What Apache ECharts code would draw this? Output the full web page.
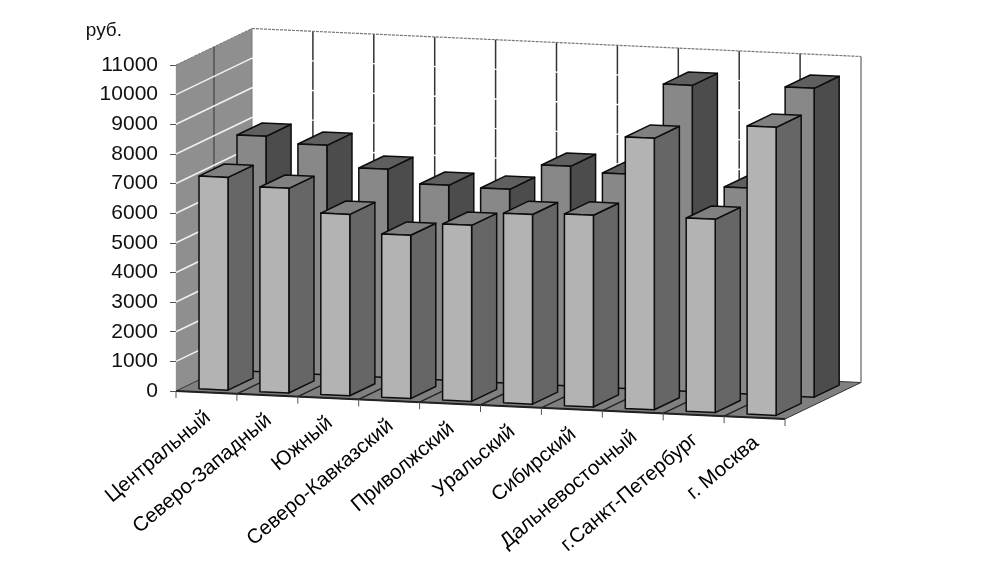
<!DOCTYPE html>
<html><head><meta charset="utf-8">
<script src="https://cdn.jsdelivr.net/npm/echarts@6/dist/echarts.min.js"></script>
<style>html,body{margin:0;padding:0;background:#fff}#c{width:1006px;height:565px}</style>
</head><body><div id="c"></div>
<script>
const categories = ['Центральный','Северо-Западный','Южный','Северо-Кавказский','Приволжский','Уральский','Сибирский','Дальневосточный','г.Санкт-Петербург','г. Москва'];
const frontValues = [7180,6905,6120,5510,5940,6400,6470,9160,6520,9720];
const backValues = [7950,7740,7025,6580,6540,7410,7235,10330,6950,10420];
const tickValues = [0,1000,2000,3000,4000,5000,6000,7000,8000,9000,10000,11000];

const DX = 76, DY = 36.5, SHEAR = 28/609;
const FONT = '"Liberation Sans", Arial, sans-serif';
function proj(api, params, cat, frac, d, v) {
  const p = api.coord([cat, v]);
  const w = api.size([1, 0])[0];
  const x0 = p[0] - w/2 + frac*w;
  return [x0 + DX*d, p[1] + (x0 - params.coordSys.x)*SHEAR - DY*d];
}
function poly(points, fill, stroke, lw) {
  return {type:'polygon', shape:{points}, silent:true, style:{fill, stroke:stroke||'none', lineWidth:lw||0, lineJoin:'round'}};
}
function line(a, b, stroke, lw, dash) {
  return {type:'line', shape:{x1:a[0],y1:a[1],x2:b[0],y2:b[1]}, silent:true, style:{stroke, lineWidth:lw, lineDash:dash||null}};
}
function renderScene(params, api) {
  const P = (c,f,d,v)=>proj(api,params,c,f,d,v);
  const L=[0,0], R=[categories.length-1,1], top=tickValues[tickValues.length-1], ch=[];
  ch.push(poly([P(L[0],0,0,0),P(L[0],0,1,0),P(L[0],0,1,top),P(L[0],0,0,top)],'#8f8f8f'));
  ch.push(poly([P(L[0],0,0,0),P(R[0],1,0,0),P(R[0],1,1,0),P(L[0],0,1,0)],'#808080','#333',1));
  for (let i=0;i<=categories.length;i++){
    const c=i<categories.length?i:categories.length-1, f=i<categories.length?0:1;
    if(i>0&&i<categories.length) ch.push(line(P(c,f,0,0),P(c,f,1,0),'#222',1.4));
    if(i<categories.length) ch.push(line(P(c,f,1,0),P(c,f,1,top),i===0?'#777':'#333',i===0?1:1.5));
  }
  ch.push(line(P(L[0],0,.5,0),P(L[0],0,.5,top),'#444',1.2));
  tickValues.forEach(v=>{ if(v===0||v===top) return;
    ch.push(line(P(L[0],0,0,v),P(L[0],0,1,v),'#f0f0f0',1.6));
    ch.push(line(P(L[0],0,1,v),P(R[0],1,1,v),'#ffffff',1.4));
  });
  ch.push(line(P(L[0],0,0,top),P(L[0],0,1,top),'#777',1,[3,1]));
  ch.push(line(P(L[0],0,1,top),P(R[0],1,1,top),'#777',1.2,[3,1]));
  ch.push(line(P(R[0],1,1,0),P(R[0],1,1,top),'#777',1.4));
  ch.push(line(P(L[0],0,0,0),P(R[0],1,0,0),'#222',1.8));
  for (let i=0;i<=categories.length;i++){
    const c=i<categories.length?i:categories.length-1, f=i<categories.length?0:1;
    const a=P(c,f,0,0);
    ch.push(line(a,[a[0],a[1]+7],'#555',1));
  }
  return {type:'group', children:ch};
}
function renderBar(d0,d1,cols){
  return function(params, api){
    const c=api.value(0), v=api.value(1), f0=.278, f1=.754;
    const P=(f,d,val)=>proj(api,params,c,f,d,val), S='#0d0d0d', W=1.5;
    return {type:'group', children:[
      poly([P(f1,d0,0),P(f1,d1,0),P(f1,d1,v),P(f1,d0,v)],cols[1],S,W),
      poly([P(f0,d0,v),P(f1,d0,v),P(f1,d1,v),P(f0,d1,v)],cols[2],S,W),
      poly([P(f0,d0,0),P(f1,d0,0),P(f1,d0,v),P(f0,d0,v)],cols[0],S,W)
    ]};
  };
}
function renderLabel(params, api){
  const i=api.value(0), p=proj(api,params,i,0,0,0);
  return {type:'text', x:p[0]+32, y:p[1]+24, rotation:40*Math.PI/180, silent:true,
    style:{text:categories[i], align:'right', verticalAlign:'middle', font:'20.5px '+FONT, fill:'#000'}};
}
const chart = echarts.init(document.getElementById('c'), null, {renderer:'canvas'});
chart.setOption({
  animation:false, backgroundColor:'#fff',
  grid:{left:176, right:221, top:65, bottom:174, containLabel:false},
  xAxis:{type:'category', data:categories, axisLine:{show:false}, axisTick:{show:false}, axisLabel:{show:false}, splitLine:{show:false}},
  yAxis:{type:'value', min:0, max:11000, interval:1000,
    name:'руб.', nameLocation:'end', nameGap:25,
    nameTextStyle:{color:'#111', fontFamily:FONT, fontSize:19, align:'right', padding:[0,54,0,0]},
    axisLine:{show:true, lineStyle:{color:'#555', width:1.2}},
    axisTick:{show:true, length:6, lineStyle:{color:'#555'}},
    axisLabel:{color:'#111', fontFamily:FONT, fontSize:21, margin:18, padding:[4,0,0,0], formatter:v=>String(v)},
    splitLine:{show:false}},
  series:[
    {type:'custom', name:'scene', renderItem:renderScene, data:[[0,0]], clip:false, silent:true, z:1},
    {type:'custom', name:'Ряд 2', renderItem:renderBar(.58,.91,['#888888','#4c4c4c','#5f5f5f']), data:backValues.map((v,i)=>[i,v]), encode:{x:0,y:1}, clip:false, silent:true, z:2},
    {type:'custom', name:'Ряд 1', renderItem:renderBar(.08,.41,['#b3b3b3','#666666','#808080']), data:frontValues.map((v,i)=>[i,v]), encode:{x:0,y:1}, clip:false, silent:true, z:3},
    {type:'custom', name:'labels', renderItem:renderLabel, data:categories.map((c,i)=>[i,0]), encode:{x:0,y:1}, clip:false, silent:true, z:4}
  ]
});
</script></body></html>
